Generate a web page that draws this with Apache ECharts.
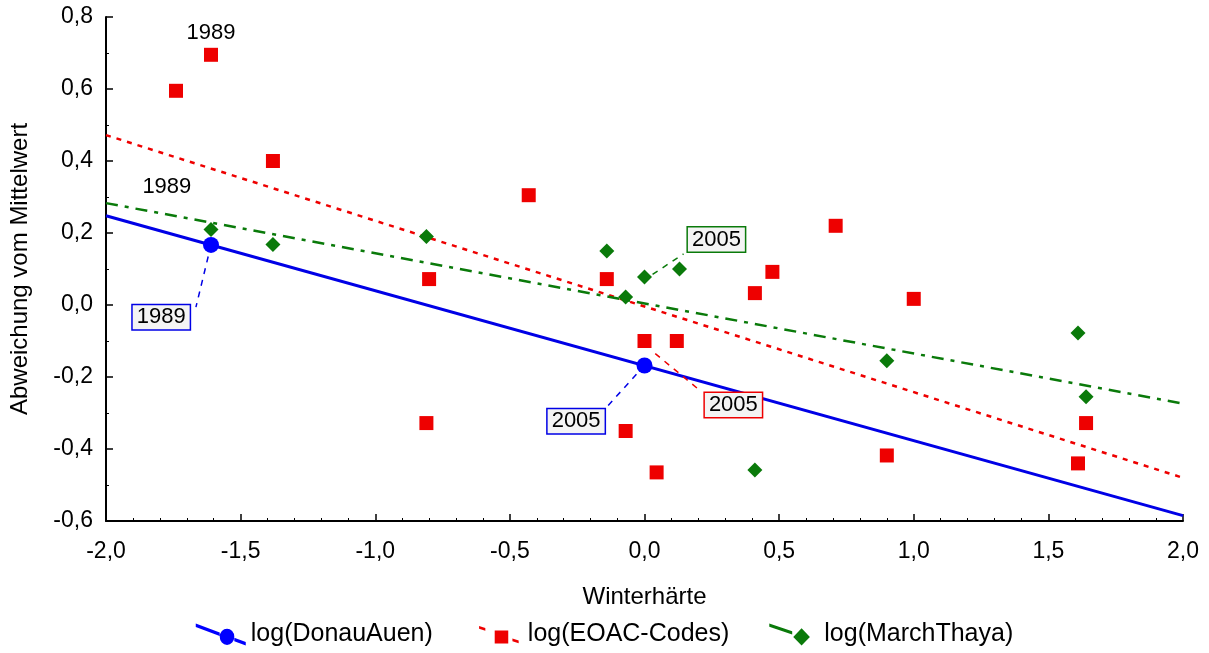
<!DOCTYPE html>
<html>
<head>
<meta charset="utf-8">
<script src="https://cdn.jsdelivr.net/npm/echarts@6/dist/echarts.min.js"></script>
<style>html,body{margin:0;padding:0;background:#fff}#c{width:1209px;height:653px}</style>
</head>
<body>
<div id="c"></div>
<script>
// ---- data ----
const xTicks = [-2.0, -1.5, -1.0, -0.5, 0.0, 0.5, 1.0, 1.5, 2.0];
const yTicks = [-0.6, -0.4, -0.2, 0.0, 0.2, 0.4, 0.6, 0.8];
const seriesNames = ['log(DonauAuen)', 'log(EOAC-Codes)', 'log(MarchThaya)'];

const donauPoints = [[-1.61, 0.167], [0.0, -0.168]];
const eoacPoints = [
  [-1.74, 0.595], [-1.61, 0.695], [-1.38, 0.40], [-0.80, 0.072], [-0.81, -0.328],
  [-0.43, 0.305], [-0.14, 0.072], [0.0, -0.10], [0.12, -0.10], [-0.07, -0.35],
  [0.045, -0.465], [0.41, 0.033], [0.475, 0.092], [0.71, 0.22], [1.0, 0.017],
  [0.90, -0.418], [1.61, -0.44], [1.64, -0.328]
];
const marchPoints = [
  [-1.61, 0.21], [-1.38, 0.168], [-0.81, 0.19], [-0.14, 0.15], [0.0, 0.078],
  [-0.07, 0.022], [0.13, 0.10], [0.41, -0.458], [0.90, -0.155], [1.61, -0.078],
  [1.64, -0.255]
];

// regression line endpoints
const donauFit = [[-2.0, 0.248], [2.0, -0.585]];
const eoacFit = [[-2.0, 0.472], [2.0, -0.48]];
const marchFit = [[-2.0, 0.283], [2.0, -0.274]];

// year annotations
const plainLabels = [
  { text: '1989', at: [-1.61, 0.755] },
  { text: '1989', at: [-1.774, 0.328] }
];
const boxedLabels = [
  { text: '1989', s: 0, from: [-1.61, 0.167], to: [-1.666, -0.006], at: [-1.795, -0.034] },
  { text: '2005', s: 0, from: [0.0, -0.168], to: [-0.147, -0.289], at: [-0.254, -0.323] },
  { text: '2005', s: 1, from: [0.04, -0.135], to: [0.21, -0.24], at: [0.33, -0.278] },
  { text: '2005', s: 2, from: [0.03, 0.085], to: [0.145, 0.142], at: [0.267, 0.182] }
];

// ---- styles ----
const colors = ['#0000e6', '#ee0000', '#0a7a0a'];
const markerColors = ['#0000ff', '#ee0000', '#0a7a0a'];
const font = '"Liberation Sans", Arial, sans-serif';
const fmt = v => v.toFixed(1).replace('.', ',');

const legendIcons = [
  'path://M0,1.5L23,9.2L23,12.2L0,4.5Z M37,13.8L48,17.5L48,20.5L37,16.8Z M23,13a7,7 0 1,0 14,0a7,7 0 1,0 -14,0Z',
  'path://M0,0L0.1,0L0.1,0.1Z M6,2.5L12,4.5L12,7.2L6,5.2Z M21,7L34,7L34,20L21,20Z M38,15L44,17L44,19.8L38,17.8Z M47.9,21.9L48,21.9L48,22Z',
  'path://M0,1.5L22,8.8L22,11.8L0,4.5Z M31,6L39,14L31,22L23,14Z M47.9,21.9L48,21.9L48,22Z'
];

const chart = echarts.init(document.getElementById('c'), null, { renderer: 'canvas' });

const series = [];
const fits = [donauFit, eoacFit, marchFit];
const lineTypes = ['solid', [5, 6], [12, 7, 4, 7]];
const symbols = ['circle', 'rect', 'diamond'];
const symSizes = [16, 14, 15];
fits.forEach((f, i) => {
  series.push({
    type: 'line', name: seriesNames[i], data: f,
    symbol: symbols[i], symbolSize: symSizes[i], showSymbol: false,
    itemStyle: { color: colors[i] },
    lineStyle: { color: colors[i], width: i === 0 ? 3 : 2.5, type: lineTypes[i] },
    silent: true, z: 2
  });
});
boxedLabels.forEach(b => {
  series.push({
    type: 'line', data: [b.from, b.to], showSymbol: false, symbol: 'none',
    lineStyle: { color: colors[b.s], width: 1.5, type: [6, 6] }, silent: true, z: 2
  });
});
[donauPoints, eoacPoints, marchPoints].forEach((p, i) => {
  series.push({
    type: 'scatter', name: seriesNames[i], data: p,
    symbol: symbols[i], symbolSize: symSizes[i],
    itemStyle: { color: markerColors[i], opacity: 1 }, z: 4
  });
});
series.push({
  type: 'scatter', symbolSize: 0, z: 5, silent: true,
  itemStyle: { color: '#000', opacity: 1 },
  data: plainLabels.map(l => ({ value: l.at, name: l.text })),
  label: { show: true, position: 'inside', formatter: p => p.name, color: '#000', opacity: 1, textBorderWidth: 0, fontSize: 22, fontFamily: font }
});
boxedLabels.forEach(b => {
  series.push({
    type: 'scatter', symbolSize: 0, z: 6, silent: true,
    itemStyle: { color: '#000', opacity: 1 },
    data: [{ value: b.at, name: b.text }],
    label: {
      show: true, position: 'inside', formatter: p => p.name, color: '#000', opacity: 1, textBorderWidth: 0, fontSize: 22, fontFamily: font,
      backgroundColor: '#f4f4f4', borderColor: colors[b.s], borderWidth: 1.5, padding: [2, 4, 0, 4]
    }
  });
});

chart.setOption({
  animation: false,
  backgroundColor: '#fff',
  textStyle: { fontFamily: font },
  grid: { left: 105, right: 26, top: 17, bottom: 132, containLabel: false },
  xAxis: {
    type: 'value', min: xTicks[0], max: xTicks[xTicks.length - 1], interval: 0.5,
    name: 'Winterhärte', nameLocation: 'middle', nameGap: 64,
    nameTextStyle: { fontSize: 24, color: '#000', fontFamily: font },
    axisLine: { onZero: false, lineStyle: { color: '#000', width: 2 } },
    axisTick: { inside: true, length: 7, lineStyle: { color: '#000', width: 1.5 } },
    minorTick: { show: true, splitNumber: 5, length: 3, lineStyle: { color: '#000', width: 1 } },
    axisLabel: { formatter: fmt, color: '#000', fontSize: 23, margin: 19, fontFamily: font },
    splitLine: { show: false }
  },
  yAxis: {
    type: 'value', min: yTicks[0], max: yTicks[yTicks.length - 1], interval: 0.2,
    name: 'Abweichung vom Mittelwert', nameLocation: 'middle', nameGap: 74,
    nameTextStyle: { fontSize: 24, color: '#000', fontFamily: font },
    axisLine: { show: true, onZero: false, lineStyle: { color: '#000', width: 2 } },
    axisTick: { show: true, inside: true, length: 7, lineStyle: { color: '#000', width: 1.5 } },
    minorTick: { show: true, splitNumber: 2, length: 3, lineStyle: { color: '#000', width: 1 } },
    axisLabel: { formatter: fmt, color: '#000', fontSize: 23, margin: 13, fontFamily: font },
    splitLine: { show: false }
  },
  legend: {
    data: seriesNames.map((n, i) => ({ name: n, icon: legendIcons[i], itemStyle: { color: markerColors[i], borderWidth: 0 } })),
    bottom: 1, left: 'center', itemWidth: 50, itemHeight: 22, itemGap: 40, symbolKeepAspect: false,
    textStyle: { fontSize: 25, color: '#000', fontFamily: font }
  },
  series: series
});
</script>
</body>
</html>
